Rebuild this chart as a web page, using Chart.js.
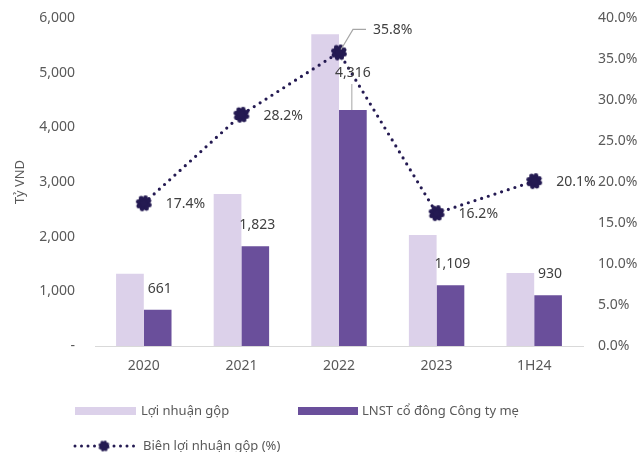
<!DOCTYPE html>
<html><head><meta charset="utf-8">
<script src="https://cdn.jsdelivr.net/npm/chart.js@4"></script>
<style>html,body{margin:0;padding:0;background:#fff}#wrap{width:640px;height:452px}</style>
</head><body><div id="wrap"><canvas id="c" width="640" height="452"></canvas></div>
<script>
// ---- data ----
const categories = ['2020', '2021', '2022', '2023', '1H24'];
const grossProfit = [1320, 2780, 5705, 2030, 1335];
const netProfitParent = [661, 1823, 4316, 1109, 930];
const grossMargin = [17.4, 28.2, 35.8, 16.2, 20.1];
const seriesNames = ['Lợi nhuận gộp', 'LNST cổ đông Công ty mẹ', 'Biên lợi nhuận gộp (%)'];
const leftAxisTitle = 'Tỷ VND';

// ---- styles ----
const LIGHT = '#dcd1ea', DARK = '#6a4f9b', NAVY = '#241a52';
const TXT = '#595959', LBL = '#404040';
const FONT = '"Noto Sans", "Liberation Sans", sans-serif';

function makeBlob(r) {
  const s = Math.ceil(r * 2 + 6);
  const cv = document.createElement('canvas');
  cv.width = s; cv.height = s;
  const g = cv.getContext('2d');
  g.fillStyle = NAVY;
  const c = s / 2;
  g.beginPath(); g.arc(c, c, r * 0.78, 0, Math.PI * 2); g.fill();
  for (let i = 0; i < 8; i++) {
    const a = i * Math.PI / 4 + 0.3;
    g.beginPath();
    g.arc(c + Math.cos(a) * r * 0.72, c + Math.sin(a) * r * 0.72, r * 0.3, 0, Math.PI * 2);
    g.fill();
  }
  return cv;
}
const blob = makeBlob(8);
const blobSmall = makeBlob(5.5);

const fmt = v => v.toLocaleString('en-US');

const labelsPlugin = {
  id: 'labelsPlugin',
  afterDatasetsDraw(chart) {
    const ctx = chart.ctx;
    ctx.save();
    ctx.font = '14px ' + FONT;
    ctx.fillStyle = LBL;
    ctx.textBaseline = 'middle';
    // net profit labels
    const m1 = chart.getDatasetMeta(1);
    m1.data.forEach((el, i) => {
      ctx.textAlign = 'center';
      if (i === 2) {
        ctx.fillText(fmt(netProfitParent[i]), el.x, 73);
        ctx.strokeStyle = '#a6a6a6'; ctx.lineWidth = 1;
        ctx.beginPath(); ctx.moveTo(el.x - 1, 84); ctx.lineTo(el.x - 1, el.y); ctx.stroke();
      } else {
        ctx.fillText(fmt(netProfitParent[i]), el.x + 2, el.y - 21);
      }
    });
    // margin labels
    const m2 = chart.getDatasetMeta(2);
    m2.data.forEach((el, i) => {
      ctx.textAlign = 'left';
      const t = grossMargin[i].toFixed(1) + '%';
      if (i === 2) {
        ctx.strokeStyle = '#a6a6a6'; ctx.lineWidth = 1.2;
        ctx.beginPath(); ctx.moveTo(el.x + 2, el.y - 3); ctx.lineTo(el.x + 14, el.y - 23); ctx.lineTo(el.x + 27, el.y - 23); ctx.stroke();
        ctx.fillText(t, el.x + 34, el.y - 22);
      } else {
        ctx.fillText(t, el.x + 22, el.y + 1);
      }
    });
    ctx.restore();
  },
  afterDraw(chart) {
    const ctx = chart.ctx;
    ctx.save();
    ctx.font = '13px ' + FONT;
    ctx.fillStyle = TXT;
    ctx.textBaseline = 'middle';
    ctx.textAlign = 'left';
    // row 1
    ctx.fillStyle = LIGHT; ctx.fillRect(75, 407, 61, 8);
    ctx.fillStyle = DARK; ctx.fillRect(298, 407, 60, 8);
    ctx.fillStyle = TXT;
    ctx.fillText(seriesNames[0], 141, 411);
    ctx.fillText(seriesNames[1], 362, 411);
    // row 2
    ctx.strokeStyle = NAVY; ctx.lineWidth = 3; ctx.lineCap = 'round';
    ctx.setLineDash([0, 6.5]);
    ctx.beginPath(); ctx.moveTo(75, 446); ctx.lineTo(134, 446); ctx.stroke();
    ctx.setLineDash([]);
    ctx.drawImage(blobSmall, 104 - blobSmall.width / 2, 446 - blobSmall.height / 2);
    ctx.fillText(seriesNames[2], 143, 446);
    ctx.restore();
  }
};

function fixVert(w) {
  return s => { s.width = w; s.paddingTop = 0; s.paddingBottom = 0; };
}

new Chart(document.getElementById('c'), {
  data: {
    labels: categories,
    datasets: [
      { type: 'bar', label: seriesNames[0], data: grossProfit, backgroundColor: LIGHT, yAxisID: 'y', order: 2,
        categoryPercentage: 0.568, barPercentage: 1 },
      { type: 'bar', label: seriesNames[1], data: netProfitParent, backgroundColor: DARK, yAxisID: 'y', order: 2,
        categoryPercentage: 0.568, barPercentage: 1 },
      { type: 'line', label: seriesNames[2], data: grossMargin, yAxisID: 'y1', order: 0,
        borderColor: NAVY, borderWidth: 3.2, borderDash: [0, 7], borderCapStyle: 'round',
        pointStyle: blob, pointRadius: 8, pointHoverRadius: 8, fill: false, tension: 0 }
    ]
  },
  options: {
    responsive: false, animation: false, devicePixelRatio: 1,
    layout: { padding: { top: 18, left: 0, right: 0, bottom: 0 } },
    plugins: { legend: { display: false }, tooltip: { enabled: false } },
    scales: {
      x: {
        grid: { display: false, drawTicks: false, tickLength: 0 },
        border: { display: true, color: '#d9d9d9', width: 1 },
        ticks: { color: TXT, font: { size: 14, family: FONT }, padding: 12 },
        afterFit(s) { s.height = 106; s.paddingLeft = 0; s.paddingRight = 0; }
      },
      y: {
        position: 'left', min: 0, max: 6000,
        grid: { display: false, drawTicks: false, tickLength: 0 },
        border: { display: false },
        ticks: { stepSize: 1000, color: TXT, font: { size: 14, family: FONT }, padding: 20,
          callback: v => v === 0 ? '-' : fmt(v) },
        title: { display: true, text: leftAxisTitle, color: TXT, font: { size: 13, family: FONT }, padding: { top: 12, bottom: 0 } },
        afterFit: fixVert(95)
      },
      y1: {
        position: 'right', min: 0, max: 40,
        grid: { display: false, drawTicks: false, tickLength: 0 },
        border: { display: false },
        ticks: { stepSize: 5, color: TXT, font: { size: 14, family: FONT }, padding: 15,
          callback: v => v.toFixed(1) + '%' },
        afterFit: fixVert(57)
      }
    }
  },
  plugins: [labelsPlugin]
});
</script>
</body></html>
